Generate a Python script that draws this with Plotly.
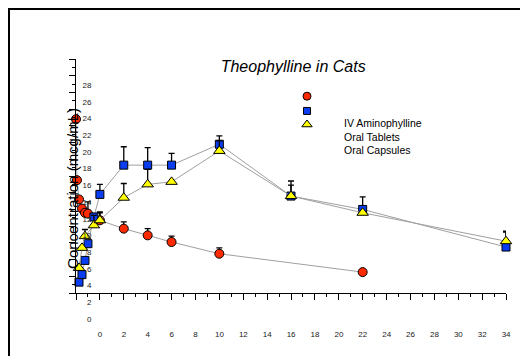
import plotly.graph_objects as go

# ---- data (time in h, concentration) ----
iv_t = [0, 0.08, 0.25, 0.5, 0.75, 1, 2, 4, 6, 8, 12, 24]
iv_c = [20.8, 13.5, 11.2, 10.1, 9.6, 9.5, 8.7, 7.7, 6.9, 6.1, 4.7, 2.5]
iv_e = [0, 0, 0, 0, 0, 1.4, 1.0, 0.8, 0.8, 0.7, 0.7, 0]

tab_t = [0.25, 0.5, 0.75, 1, 1.5, 2, 4, 6, 8, 12, 18, 24, 36]
tab_c = [1.3, 2.2, 3.9, 5.9, 9.1, 11.8, 15.3, 15.3, 15.3, 17.8, 11.6, 10.0, 5.5]
tab_e = [0, 0, 0, 0, 0, 1.2, 2.2, 2.1, 1.4, 1.0, 1.8, 1.5, 1.8]

cap_t = [0.25, 0.5, 0.75, 1.5, 2, 4, 6, 8, 12, 18, 24, 36]
cap_c = [3.0, 5.4, 6.8, 8.1, 8.7, 11.4, 13.0, 13.3, 17.0, 11.6, 9.6, 6.2]
cap_e = [0, 0, 0.8, 1.2, 0.9, 1.7, 1.8, 0, 1.2, 1.3, 0, 1.2]

x_tickvals = list(range(0, 37, 2))
x_ticktext = [str(v) for v in range(0, 35, 2)] + [""]
y_tickvals = list(range(0, 29, 2))
y_ticktext = [str(v) for v in y_tickvals]

series_names = ["IV Aminophylline", "Oral Tablets", "Oral Capsules"]
title_text = "Theophylline in Cats"
ytitle_text = "Concentration (mcg/mL)"

LINE = "#a0a0a0"
FONT = "Liberation Sans, Arial, sans-serif"

specs = [
    (iv_t, iv_c, iv_e, "circle", "#ff2a00", 9),
    (tab_t, tab_c, tab_e, "square", "#0a3cf0", 8),
    (cap_t, cap_c, cap_e, "triangle-up", "#ffff00", 10),
]
legend_ids = ["legend", "legend2", "legend3"]
legend_tops = [0.903, 0.840, 0.782]

fig = go.Figure()
for (t, c, e, sym, col, sz), nm in zip(specs, series_names):
    fig.add_trace(go.Scatter(
        x=t, y=c, name=nm, mode="lines+markers", showlegend=False,
        line=dict(color=LINE, width=1),
        marker=dict(symbol=sym, color=col, size=sz, line=dict(color="black", width=1)),
        error_y=dict(type="data", symmetric=False, array=e, arrayminus=[0] * len(e),
                     color="black", thickness=1.3, width=3),
        cliponaxis=False,
    ))
# legend keys (markers only), one small legend each
for (t, c, e, sym, col, sz), lid in zip(specs, legend_ids):
    fig.add_trace(go.Scatter(
        x=[None], y=[None], name=" ", mode="markers", showlegend=True, legend=lid,
        marker=dict(symbol=sym, color=col, size=sz - 1, line=dict(color="black", width=1)),
    ))

legend_cfg = {}
for lid, top in zip(legend_ids, legend_tops):
    legend_cfg[lid] = dict(x=0.4907, y=top, xanchor="left", yanchor="top",
                           bgcolor="rgba(0,0,0,0)", font=dict(size=8))

fig.update_layout(
    template="none",
    width=528, height=356,
    margin=dict(l=68, r=30, t=51, b=71),
    paper_bgcolor="white", plot_bgcolor="white",
    font=dict(family=FONT, color="black"),
    title=dict(text="<i>" + title_text + "</i>", font=dict(size=16, family=FONT),
               x=0.505, xref="paper", xanchor="center", y=1 - 58 / 356, yanchor="middle"),
    showlegend=True,
    xaxis=dict(range=[0, 36], tickmode="array", tickvals=x_tickvals, ticktext=x_ticktext,
               ticks="outside", ticklen=6, tickwidth=1,
               tickcolor="black", showline=True, linecolor="black", linewidth=1,
               showgrid=False, zeroline=False, automargin=False,
               tickfont=dict(size=8, family=FONT, color="#222"),
               ticklabelshift=24, ticklabelstandoff=27, ticklabeloverflow="allow",
               minor=dict(dtick=1, ticks="outside", ticklen=3, tickcolor="black", showgrid=False)),
    yaxis=dict(range=[0, 28], tickmode="array", tickvals=y_tickvals, ticktext=y_ticktext,
               ticks="outside", ticklen=6, tickwidth=1,
               tickcolor="black", showline=True, linecolor="black", linewidth=1,
               showgrid=False, zeroline=False, automargin=False,
               ticklabelposition="outside", ticklabelshift=26, ticklabelstandoff=-24,
               ticklabeloverflow="allow",
               tickfont=dict(size=8, family=FONT, color="#222"),
               minor=dict(dtick=1, ticks="outside", ticklen=3, tickcolor="black", showgrid=False)),
    annotations=[
        dict(text=ytitle_text, xref="paper", yref="paper", x=-0.007, y=0.449,
             textangle=-90, showarrow=False, xanchor="center", yanchor="middle",
             font=dict(size=15, family=FONT, color="black")),
        dict(text="<br>".join(series_names), xref="paper", yref="paper", x=0.618, y=0.761,
             showarrow=False, xanchor="left", yanchor="top", align="left",
             font=dict(size=10.5, family=FONT, color="black")),
    ],
    shapes=[
        dict(type="rect", xref="paper", yref="paper", x0=-0.1558, x1=1.3, y0=-0.5, y1=1.2137,
             line=dict(color="black", width=2), layer="below"),
    ],
    **legend_cfg,
)

fig.write_html("out.html")
